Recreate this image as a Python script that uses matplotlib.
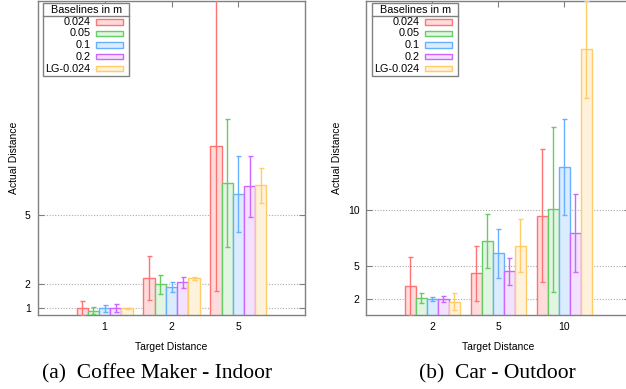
import matplotlib
matplotlib.use("Agg")
import matplotlib.pyplot as plt
from matplotlib.patches import Rectangle
from matplotlib.lines import Line2D
import numpy as np

W, H = 626, 389

series_labels = ["0.024", "0.05", "0.1", "0.2", "LG-0.024"]
edge_colors = ["#ff7373", "#66cc66", "#66b0ff", "#cc66ff", "#ffcc66"]
fill_colors = ["#ffdcdc", "#e2f5e2", "#dcecff", "#f3e2ff", "#fff2dc"]

# (a) Coffee Maker - Indoor
cats_a = ["1", "2", "5"]
means_a = [
    [0.98, 2.26, 7.95],   # 0.024
    [0.88, 2.00, 6.35],   # 0.05
    [0.98, 1.90, 5.88],   # 0.1
    [0.98, 2.09, 6.21],   # 0.2
    [0.98, 2.26, 6.25],   # LG-0.024
]
errs_a = [
    [0.29, 0.94, 6.25],
    [0.15, 0.40, 2.73],
    [0.16, 0.21, 1.63],
    [0.17, 0.25, 1.32],
    [0.03, 0.08, 0.75],
]
yticks_a = [1, 2, 5]

# (b) Car - Outdoor
cats_b = ["2", "5", "10"]
means_b = [
    [3.14, 4.30, 9.45],
    [2.06, 7.17, 10.03],
    [2.00, 6.10, 13.80],
    [2.00, 4.48, 7.89],
    [1.76, 6.78, 24.37],
]
errs_b = [
    [2.60, 2.45, 5.95],
    [0.45, 2.42, 7.40],
    [0.15, 2.20, 4.30],
    [0.28, 1.20, 3.50],
    [0.75, 2.40, 4.35],
]
yticks_b = [2, 5, 10]

plt.rcParams['font.family'] = ['Liberation Sans', 'DejaVu Sans']

fig = plt.figure(figsize=(W / 100, H / 100), dpi=100)


def ax_rect(left, top, right, bottom):
    return [left / W, 1 - bottom / H, (right - left) / W, (bottom - top) / H]


def draw_panel(ax, cats, means, errs, yticks, ylim, legend_left_px):
    n = len(series_labels)
    bw = 0.168
    x = np.arange(len(cats))
    for i in range(n):
        pos = x + (i - (n - 1) / 2) * bw
        ax.bar(pos, means[i], width=bw, bottom=0, color=fill_colors[i],
               edgecolor=edge_colors[i], linewidth=1.0, zorder=2)
        ax.errorbar(pos, means[i], yerr=errs[i], fmt='none',
                    ecolor=edge_colors[i], elinewidth=1.0, capsize=1.8,
                    capthick=1.0, zorder=3)
    ax.set_xlim(-1, 3)
    ax.set_ylim(*ylim)
    ax.set_xticks(x)
    ax.set_xticklabels(cats)
    ax.set_yticks(yticks)
    ax.set_yticklabels([str(t) for t in yticks])
    for t in yticks:
        ax.axhline(t, color="#aaaaaa", linestyle=(0, (1, 1.5)), linewidth=0.8, zorder=1)
    ax.tick_params(direction='in', length=4, width=0.8, color="#808080",
                   labelsize=7.5, top=True, right=True, pad=5)
    for s in ax.spines.values():
        s.set_color("#808080")
        s.set_linewidth(1.0)
    ax.set_xlabel("Target Distance", fontsize=7.5, labelpad=7)
    ax.set_ylabel("Actual Distance", fontsize=7.5, labelpad=4)

    # legend (gnuplot style) drawn in figure pixels
    L = legend_left_px
    R = L + 86
    T, B = 3.3, 75.7
    tr = fig.transFigure
    fx = lambda px: px / W
    fy = lambda py: 1 - py / H
    fig.patches.append(Rectangle((fx(L), fy(B)), fx(R) - fx(L), fy(T) - fy(B),
                                 transform=tr, facecolor="white", edgecolor="#808080",
                                 linewidth=1.0, zorder=5))
    fig.lines.append(Line2D([fx(L), fx(R)], [fy(15.7), fy(15.7)], transform=tr,
                            color="#808080", linewidth=1.0, zorder=6))
    fig.text(fx((L + R) / 2), fy(9.7), "Baselines in m", ha="center", va="center",
             fontsize=7.8, zorder=7)
    rows = [22, 33.5, 45, 56.7, 68.7]
    for i, lab in enumerate(series_labels):
        yc = rows[i]
        fig.text(fx(L + 47), fy(yc), lab, ha="right", va="center", fontsize=7.8, zorder=7)
        fig.patches.append(Rectangle((fx(L + 52.5), fy(yc + 2.5)), fx(27.5), 5 / H,
                                     transform=tr, facecolor=fill_colors[i],
                                     edgecolor=edge_colors[i], linewidth=1.0, zorder=7))


ax1 = fig.add_axes(ax_rect(37.7, 1, 305.3, 315))
draw_panel(ax1, cats_a, means_a, errs_a, yticks_a, (0.69, 14.16), 43.3)
ax2 = fig.add_axes(ax_rect(366.3, 1, 630.3, 315))
draw_panel(ax2, cats_b, means_b, errs_b, yticks_b, (0.57, 28.7), 372.3)

fig.text(157 / W, 1 - 374 / H, "(a)  Coffee Maker - Indoor", ha="center", va="center",
         fontsize=15.5, family=["Liberation Serif", "DejaVu Serif"])
fig.text(497 / W, 1 - 374 / H, "(b)  Car - Outdoor", ha="center", va="center",
         fontsize=15.5, family=["Liberation Serif", "DejaVu Serif"])

fig.savefig("out.png", dpi=100)
